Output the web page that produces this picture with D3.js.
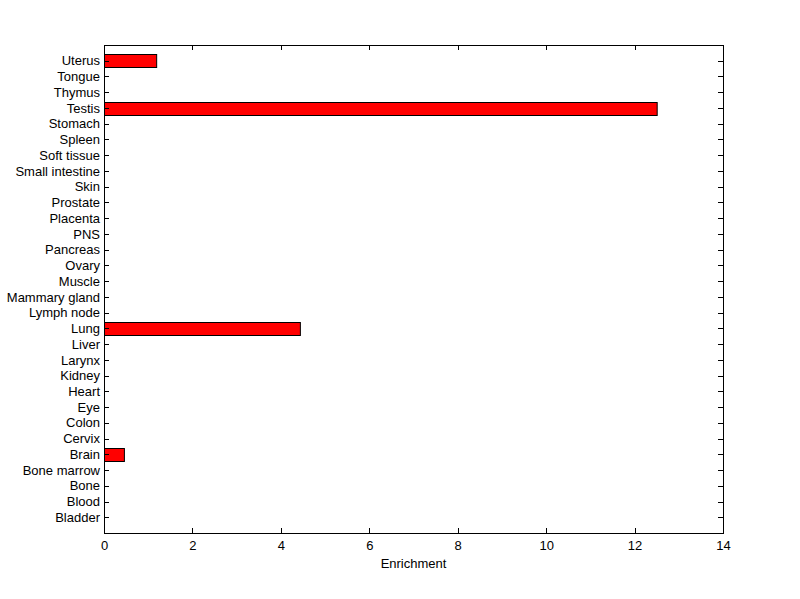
<!DOCTYPE html>
<html>
<head>
<meta charset="utf-8">
<script src="https://cdn.jsdelivr.net/npm/d3@7"></script>
<style>
  body { margin: 0; background: #fff; }
  text { font-family: "Liberation Sans", Arial, sans-serif; font-size: 13px; fill: #000; }
</style>
</head>
<body>
<svg id="chart" width="800" height="599"></svg>
<script>
// tissues, bottom to top as drawn
var tissues = ["Bladder", "Blood", "Bone", "Bone marrow", "Brain", "Cervix", "Colon", "Eye",
  "Heart", "Kidney", "Larynx", "Liver", "Lung", "Lymph node", "Mammary gland", "Muscle",
  "Ovary", "Pancreas", "PNS", "Placenta", "Prostate", "Skin", "Small intestine",
  "Soft tissue", "Spleen", "Stomach", "Testis", "Thymus", "Tongue", "Uterus"];
var enrichment = [0, 0, 0, 0, 0.45, 0, 0, 0,
  0, 0, 0, 0, 4.43, 0, 0, 0,
  0, 0, 0, 0, 0, 0, 0,
  0, 0, 0, 12.5, 0, 0, 1.18];
var xTicks = [0, 2, 4, 6, 8, 10, 12, 14];

var plotLeft = 104, plotRight = 723, plotTop = 45, plotBottom = 533;
var svg = d3.select("#chart");

var x = d3.scaleLinear().domain([0, 14]).range([plotLeft, plotRight]);
// categories sit at 1..30 on a 0..31 axis
var y = d3.scaleLinear().domain([0, tissues.length + 1]).range([plotBottom, plotTop]);
var barH = (y(0) - y(1)) * 0.8;

var data = tissues.map(function (t, i) { return { name: t, pos: i + 1, value: enrichment[i] }; });

// bars
svg.append("g").selectAll("rect").data(data.filter(function (d) { return d.value > 0; }))
  .enter().append("rect")
  .attr("x", x(0) + 0.5)
  .attr("y", function (d) { return Math.round(y(d.pos) - barH / 2) + 0.5; })
  .attr("width", function (d) { return x(d.value) - x(0); })
  .attr("height", Math.round(barH))
  .attr("fill", "#ff0000")
  .attr("stroke", "#000")
  .attr("stroke-width", 1);

// axes, ticks pointing inward like matlab
var yPos = data.map(function (d) { return d.pos; });
var bottomAxis = d3.axisBottom(x).tickValues(xTicks).tickSizeInner(-5).tickSizeOuter(0).tickPadding(8);
var topAxis = d3.axisTop(x).tickValues(xTicks).tickSizeInner(-5).tickSizeOuter(0).tickFormat("");
var leftAxis = d3.axisLeft(y).tickValues(yPos).tickSizeInner(-5).tickSizeOuter(0).tickPadding(4)
  .tickFormat(function (v) { return tissues[v - 1]; });
var rightAxis = d3.axisRight(y).tickValues(yPos).tickSizeInner(-5).tickSizeOuter(0).tickFormat("");

svg.append("g").attr("transform", "translate(0," + plotBottom + ")").call(bottomAxis);
svg.append("g").attr("transform", "translate(0," + plotTop + ")").call(topAxis);
svg.append("g").attr("transform", "translate(" + plotLeft + ",0)").call(leftAxis);
svg.append("g").attr("transform", "translate(" + plotRight + ",0)").call(rightAxis);

svg.selectAll(".domain, .tick line").attr("stroke", "#000").attr("shape-rendering", "crispEdges");
svg.selectAll(".tick text").style("font-size", "13px").style("font-family", "Liberation Sans, Arial, sans-serif");

svg.append("text")
  .attr("x", (plotLeft + plotRight) / 2)
  .attr("y", 568)
  .attr("text-anchor", "middle")
  .text("Enrichment");
</script>
</body>
</html>
